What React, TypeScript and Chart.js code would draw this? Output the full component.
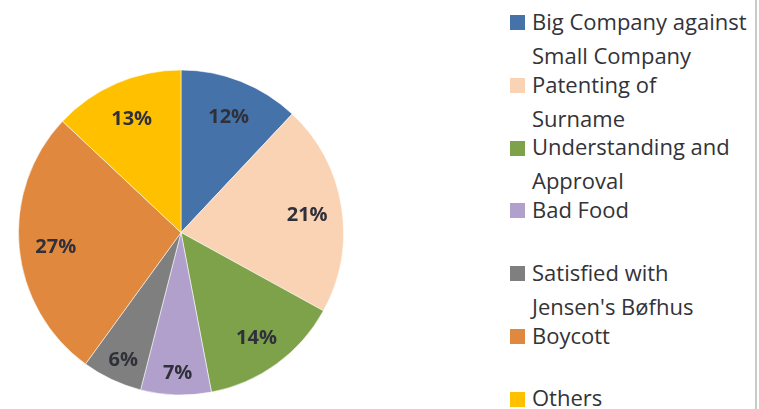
import React, { useEffect, useRef } from "react";
import { Chart, registerables } from "chart.js";

Chart.register(...registerables);

const categories: string[][] = [
  ["Big Company against", "Small Company"],
  ["Patenting of", "Surname"],
  ["Understanding and", "Approval"],
  ["Bad Food"],
  ["Satisfied with", "Jensen's Bøfhus"],
  ["Boycott"],
  ["Others"],
];
const shares: number[] = [12, 21, 14, 7, 6, 27, 13];
const sliceColors: string[] = ["#4672AA", "#F9D3B4", "#7DA24A", "#B1A0CB", "#7F7F7F", "#E0883E", "#FFC000"];

const FONT = "'Open Sans', 'DejaVu Sans', sans-serif";

const labelPlugin = {
  id: "sliceLabels",
  afterDatasetsDraw(chart: any) {
    const ctx = chart.ctx;
    const meta = chart.getDatasetMeta(0);
    const data = chart.data.datasets[0].data as number[];
    ctx.save();
    ctx.font = `bold 20px ${FONT}`;
    ctx.fillStyle = "#30303a";
    ctx.textAlign = "center";
    ctx.textBaseline = "middle";
    meta.data.forEach((arc: any, i: number) => {
      const p = arc.getProps(["x", "y", "startAngle", "endAngle", "outerRadius"], true);
      const mid = (p.startAngle + p.endAngle) / 2;
      const v = data[i];
      const f = v < 8 ? 0.85 : 0.78;
      const x = p.x + Math.cos(mid) * p.outerRadius * f;
      const y = p.y + Math.sin(mid) * p.outerRadius * f;
      ctx.fillText(`${v}%`, x + 1, y + 3);
    });
    ctx.restore();
  },
};

function PieChart() {
  const ref = useRef<HTMLCanvasElement | null>(null);
  useEffect(() => {
    if (!ref.current) return;
    const chart = new Chart(ref.current, {
      type: "pie",
      data: {
        labels: categories.map((c) => c.join(" ")),
        datasets: [
          {
            data: shares,
            backgroundColor: sliceColors,
            borderColor: "rgba(255,255,255,0.55)",
            borderWidth: 1,
          },
        ],
      },
      options: {
        animation: false,
        responsive: true,
        maintainAspectRatio: false,
        layout: { padding: 0 },
        plugins: {
          legend: { display: false },
          tooltip: { enabled: false },
        },
      },
      plugins: [labelPlugin],
    });
    return () => chart.destroy();
  }, []);
  return <canvas ref={ref} />;
}

export default function App() {
  const itemStep = 62.75;
  const firstCenter = 21.5;
  const lineGap = 34;
  const fs = 22;
  const lh = 30;
  // cap-centre offset inside a line box for Open Sans
  const capOffset = (lh - 1.362 * fs) / 2 + 1.069 * fs - 0.357 * fs;
  return (
    <div
      style={{
        position: "fixed",
        left: 0,
        top: 0,
        width: 759,
        height: 409,
        background: "#ffffff",
        overflow: "hidden",
        fontFamily: FONT,
      }}
    >
      <div style={{ position: "absolute", left: 18, top: 69, width: 326, height: 327 }}>
        <PieChart />
      </div>
      {categories.map((lines, i) => {
        const center = firstCenter + itemStep * i;
        return (
          <React.Fragment key={i}>
            <div
              style={{
                position: "absolute",
                left: 510,
                top: center + 1 - 7.5,
                width: 15,
                height: 15,
                background: sliceColors[i],
              }}
            />
            {lines.map((t, j) => (
              <div
                key={j}
                style={{
                  position: "absolute",
                  left: 532,
                  top: center + j * lineGap - capOffset,
                  height: lh,
                  lineHeight: `${lh}px`,
                  fontSize: fs,
                  color: "#333338",
                  whiteSpace: "nowrap",
                }}
              >
                {t}
              </div>
            ))}
          </React.Fragment>
        );
      })}
      <div style={{ position: "absolute", left: 755, top: 0, width: 2, height: 409, background: "#c9c9c9" }} />
    </div>
  );
}
